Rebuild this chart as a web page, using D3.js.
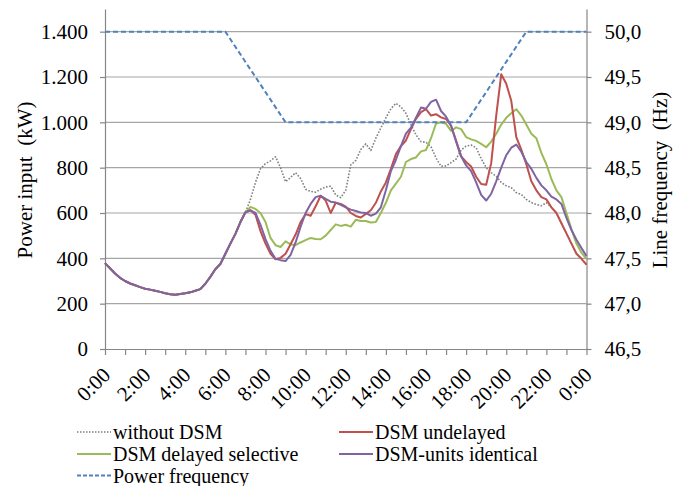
<!DOCTYPE html>
<html>
<head>
<meta charset="utf-8">
<script src="https://cdn.jsdelivr.net/npm/d3@7"></script>
<style>
  body { margin: 0; background: #fff; }
  svg text { font-family: "Liberation Serif", "Times New Roman", serif; fill: #000; }
</style>
</head>
<body>
<svg id="chart" width="678" height="486"></svg>
<script>
// ---- Data -------------------------------------------------------------
// Load profile sampled every 15 minutes (kW). All scenarios share the
// night/morning profile up to 07:00.
const stepHours = 0.25;
const sharedMorning = [
  379, 356, 333, 314, 300, 289, 281, 273, 266, 262, 257, 252, 246, 242, 239, 243,
  246, 250, 257, 264, 288, 318, 352, 375, 420, 465, 508, 560, 603
];
// 07:15 … 24:00
const withoutDsmDay = [
  660, 735, 795, 818, 830, 848, 800, 738, 757, 778, 752, 705, 695, 692, 705, 715,
  718, 680, 668, 700, 812, 832, 880, 905, 876, 930, 975, 1020, 1060, 1084, 1068, 1040,
  990, 945, 915, 912, 892, 843, 806, 808, 822, 838, 878, 895, 900, 888, 840, 800,
  778, 762, 735, 720, 712, 690, 682, 660, 646, 638, 632, 645, 625, 600, 555, 510,
  465, 420, 398, 372
];
const dsmUndelayedDay = [
  612, 592, 520, 465, 420, 396, 402, 420, 462, 505, 560, 595, 588, 630, 676, 655,
  600, 645, 640, 628, 600, 587, 580, 596, 612, 645, 695, 735, 795, 860, 895, 920,
  970, 1015, 1045, 1058, 1030, 1036, 1022, 1015, 985, 920, 850, 825, 805, 760, 728, 725,
  820, 1030, 1212, 1170, 1095, 935, 880, 815, 740, 700, 670, 660, 625, 600, 555, 510,
  465, 420, 398, 372
];
const dsmDelayedSelectiveDay = [
  627, 618, 600, 560, 490, 458, 450, 475, 462, 458, 470, 480, 490, 485, 484, 500,
  525, 550, 543, 548, 540, 570, 565, 565, 558, 560, 600, 645, 700, 730, 760, 825,
  838, 845, 872, 878, 930, 995, 1000, 993, 962, 978, 970, 935, 925, 918, 905, 890,
  915, 950, 990, 1020, 1040, 1058, 1030, 990, 950, 930, 865, 815, 750, 700, 670, 600,
  528, 465, 425, 398
];
const dsmUnitsIdenticalDay = [
  612, 600, 548, 485, 433, 398, 392, 388, 415, 470, 540, 600, 640, 670, 676, 662,
  650, 646, 636, 625, 615, 609, 602, 600, 588, 597, 625, 700, 785, 835, 895, 950,
  976, 1020, 1065, 1060, 1090, 1100, 1050, 1025, 985, 915, 850, 810, 785, 735, 680, 655,
  685, 740, 800, 855, 888, 902, 870, 825, 795, 755, 722, 700, 672, 660, 640, 578,
  525, 482, 445, 410
];
// Grid frequency schedule (Hz) at its break points
const freqHours = [0, 6, 9, 18, 21, 24];
const freqValues = [50.0, 50.0, 49.0, 49.0, 50.0, 50.0];

const powerTicks = [0, 200, 400, 600, 800, 1000, 1200, 1400];
const freqTicks = [46.5, 47.0, 47.5, 48.0, 48.5, 49.0, 49.5, 50.0];
const hourTicks = [0, 1, 2, 3, 4, 5, 6, 7, 8, 9, 10, 11, 12, 13, 14, 15, 16, 17, 18, 19, 20, 21, 22, 23, 24];
const hourLabels = ["0:00", "2:00", "4:00", "6:00", "8:00", "10:00", "12:00",
                    "14:00", "16:00", "18:00", "20:00", "22:00", "0:00"];

const seriesNames = ["without DSM", "DSM undelayed", "DSM delayed selective", "DSM-units identical", "Power frequency"];
const seriesColors = ["#808080", "#c0504d", "#9bbb59", "#8064a2", "#4f81bd"];

// ---- Layout -----------------------------------------------------------
const svg = d3.select("#chart");
const x = d3.scaleLinear().domain([0, 24]).range([105, 586.5]);
const yL = d3.scaleLinear().domain([0, 1500]).range([349, 9]);
const yR = d3.scaleLinear().domain([46.5, 50.25]).range([349, 9]);

const de = d3.formatLocale({ decimal: ",", thousands: ".", grouping: [3], currency: ["", "€"] });
const fmtPower = de.format(",d");
const fmtFreq = de.format(".1f");

const gridColor = "#a6a6a6";
const axisColor = "#868686";

// horizontal gridlines
svg.append("g").selectAll("line")
  .data(powerTicks.filter(d => d > 0))
  .join("line")
  .attr("x1", x(0)).attr("x2", x(24))
  .attr("y1", d => yL(d)).attr("y2", d => yL(d))
  .attr("stroke", gridColor).attr("stroke-width", 1.2);

// axes
function styleAxis(g) {
  g.selectAll("path.domain").attr("stroke", axisColor).attr("stroke-width", 1.2);
  g.selectAll(".tick line").attr("stroke", axisColor).attr("stroke-width", 1.2);
  g.selectAll("text").attr("font-size", 21).attr("fill", "#000")
    .style("font-family", '"Liberation Serif", "Times New Roman", serif');
}

svg.append("g")
  .attr("transform", `translate(${x(0)},0)`)
  .call(d3.axisLeft(yL).tickValues(powerTicks).tickFormat(fmtPower).tickSize(5).tickSizeOuter(0).tickPadding(12))
  .call(styleAxis);

svg.append("g")
  .attr("transform", `translate(${x(24)},0)`)
  .call(d3.axisRight(yR).tickValues(freqTicks).tickFormat(fmtFreq).tickSize(5).tickSizeOuter(0).tickPadding(13))
  .call(styleAxis);

svg.append("g")
  .attr("transform", `translate(0,${yL(0)})`)
  .call(d3.axisBottom(x).tickValues(hourTicks).tickFormat("").tickSize(6).tickSizeOuter(0))
  .call(styleAxis);

// rotated time labels every two hours
svg.append("g").selectAll("text")
  .data(hourLabels)
  .join("text")
  .attr("transform", (d, i) => `translate(${x(i * 2) + 1.5},${yL(0) + 22}) rotate(-45)`)
  .attr("text-anchor", "end")
  .attr("dy", "0.35em")
  .attr("font-size", 21)
  .text(d => d);

// axis titles
svg.append("text")
  .attr("transform", `translate(32,180) rotate(-90)`)
  .attr("text-anchor", "middle")
  .attr("font-size", 21)
  .style("white-space", "pre")
  .text("Power input  (kW)");

svg.append("text")
  .attr("transform", `translate(667,180) rotate(-90)`)
  .attr("text-anchor", "middle")
  .attr("font-size", 21)
  .style("white-space", "pre")
  .text("Line frequency  (Hz)");

// ---- Series -----------------------------------------------------------
const fullDay = day => sharedMorning.concat(day);
const loadSeries = [
  { values: fullDay(withoutDsmDay), color: seriesColors[0], width: 1.6, dash: "1.6,1.6" },
  { values: fullDay(dsmDelayedSelectiveDay), color: seriesColors[2], width: 2, dash: null },
  { values: fullDay(dsmUndelayedDay), color: seriesColors[1], width: 2, dash: null },
  { values: fullDay(dsmUnitsIdenticalDay), color: seriesColors[3], width: 2, dash: null }
];

const loadLine = d3.line()
  .x((v, i) => x(i * stepHours))
  .y(v => yL(v));

svg.append("g").selectAll("path")
  .data(loadSeries)
  .join("path")
  .attr("d", s => loadLine(s.values))
  .attr("fill", "none")
  .attr("stroke", s => s.color)
  .attr("stroke-width", s => s.width)
  .attr("stroke-dasharray", s => s.dash)
  .attr("stroke-linejoin", "round");

const freqLine = d3.line()
  .x((v, i) => x(freqHours[i]))
  .y(v => yR(v));

svg.append("path")
  .attr("d", freqLine(freqValues))
  .attr("fill", "none")
  .attr("stroke", seriesColors[4])
  .attr("stroke-width", 2)
  .attr("stroke-dasharray", "5,3");

// ---- Legend -----------------------------------------------------------
const legendItems = [
  { name: seriesNames[0], color: seriesColors[0], dash: "1.5,1.5", width: 1.5, col: 0, row: 0 },
  { name: seriesNames[1], color: seriesColors[1], dash: null, width: 2, col: 1, row: 0 },
  { name: seriesNames[2], color: seriesColors[2], dash: null, width: 2, col: 0, row: 1 },
  { name: seriesNames[3], color: seriesColors[3], dash: null, width: 2, col: 1, row: 1 },
  { name: seriesNames[4], color: seriesColors[4], dash: "4,2", width: 2, col: 0, row: 2 }
];
const legend = svg.append("g");
const colX = [77, 339];
const rowY = [432, 454, 475.5];
const item = legend.selectAll("g")
  .data(legendItems)
  .join("g")
  .attr("transform", d => `translate(${colX[d.col]},${rowY[d.row]})`);
item.append("line")
  .attr("x1", 0).attr("x2", 34)
  .attr("stroke", d => d.color)
  .attr("stroke-width", d => d.width)
  .attr("stroke-dasharray", d => d.dash);
item.append("text")
  .attr("x", 36)
  .attr("y", 7)
  .attr("font-size", 20)
  .text(d => d.name);
</script>
</body>
</html>
